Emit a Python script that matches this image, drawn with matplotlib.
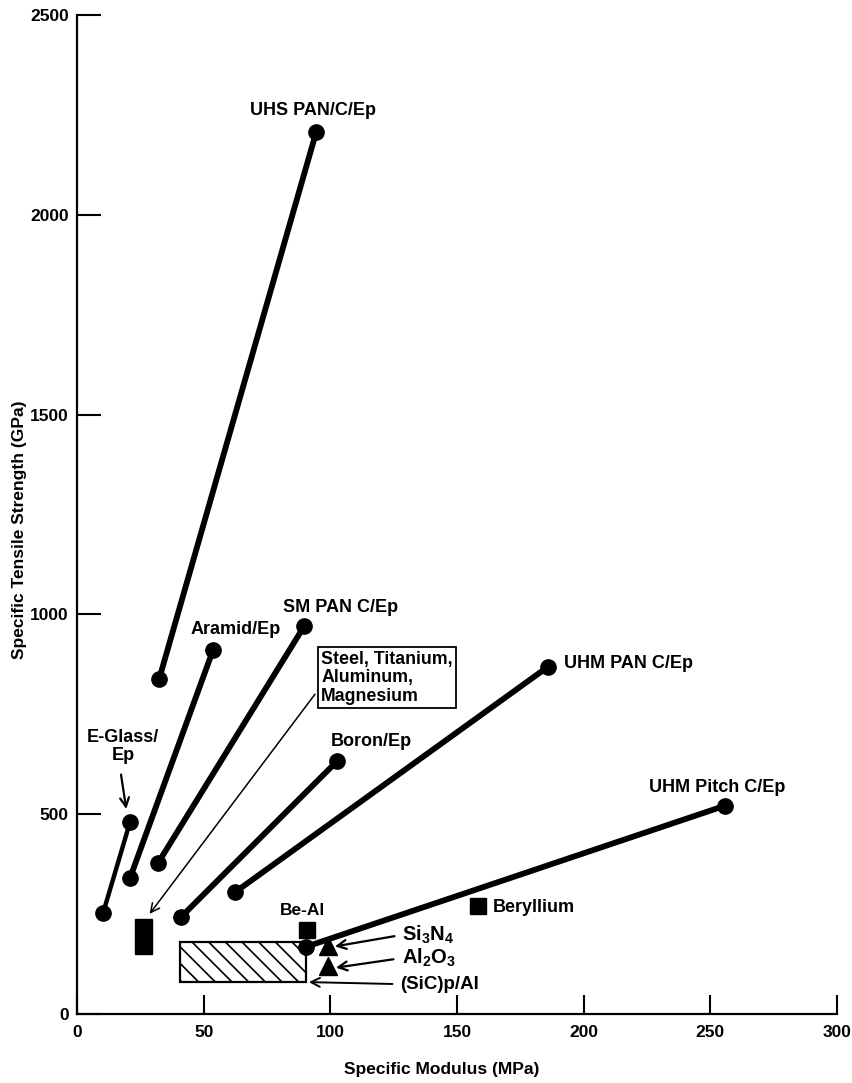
import numpy as np
import matplotlib.pyplot as plt
from matplotlib.patches import Rectangle

plt.rcParams['font.family'] = ['Liberation Sans', 'DejaVu Sans']
plt.rcParams['font.weight'] = 'bold'
plt.rcParams['mathtext.default'] = 'regular'
plt.rcParams['hatch.linewidth'] = 1.2

# fibre composites: (modulus, strength) at each end of the band
materials = ['E-Glass/Ep', 'Aramid/Ep', 'SM PAN C/Ep', 'UHS PAN/C/Ep',
             'Boron/Ep', 'UHM PAN C/Ep', 'UHM Pitch C/Ep']
modulus_low = [10.3, 20.9, 32.0, 32.4, 41.1, 62.4, 90.3]
modulus_high = [20.9, 53.7, 89.7, 94.4, 102.7, 185.9, 255.6]
strength_low = [253, 340, 378, 838, 243, 305, 168]
strength_high = [480, 911, 971, 2207, 633, 869, 521]

# steel / titanium / aluminium / magnesium block
metals_modulus = [23.0, 29.5]
metals_strength = [150, 238]

# (SiC)p/Al range
sic_modulus = [40.7, 90.3]
sic_strength = [79, 179]

# single points
squares = ['Be-Al', 'Beryllium']
squares_modulus = [90.7, 158.2]
squares_strength = [209, 271]
ceramics = ['Si$_3$N$_4$', 'Al$_2$O$_3$']
ceramics_modulus = [99.0, 99.1]
ceramics_strength = [171, 120]

x_ticks = [0, 50, 100, 150, 200, 250, 300]
y_ticks = [0, 500, 1000, 1500, 2000, 2500]

fig = plt.figure(figsize=(8.53, 10.83), dpi=100)
ax = fig.add_axes([0.0903, 0.0637, 0.891, 0.9224])

for i in range(len(materials)):
    lw = 3.2 if i == 0 else 4.2
    ax.plot([modulus_low[i], modulus_high[i]], [strength_low[i], strength_high[i]],
            color='black', lw=lw, marker='o', ms=11, solid_capstyle='round')

ax.add_patch(Rectangle((metals_modulus[0], metals_strength[0]),
                       metals_modulus[1] - metals_modulus[0],
                       metals_strength[1] - metals_strength[0],
                       facecolor='black', edgecolor='black'))
ax.add_patch(Rectangle((sic_modulus[0], sic_strength[0]),
                       sic_modulus[1] - sic_modulus[0],
                       sic_strength[1] - sic_strength[0],
                       facecolor='white', edgecolor='black', lw=1.6, hatch='\\\\', zorder=1))

ax.plot(squares_modulus, squares_strength, 's', color='black', ms=11, zorder=3)
ax.plot(ceramics_modulus, ceramics_strength, '^', color='black', ms=13, zorder=3)

# labels for the composite bands
fs = 13
label_pos = {
    'UHS PAN/C/Ep': (68.3, 2262),
    'Aramid/Ep': (45.0, 963),
    'SM PAN C/Ep': (81.4, 1018),
    'UHM PAN C/Ep': (192.3, 878),
    'Boron/Ep': (100.3, 681),
    'UHM Pitch C/Ep': (225.9, 568),
}
for name, (lx, ly) in label_pos.items():
    ax.text(lx, ly, name, fontsize=fs, fontweight='bold', ha='left', va='center')

ax.text(18.2, 669, 'E-Glass/\nEp', fontsize=fs, fontweight='bold', ha='center',
        va='center', linespacing=1.05)
ax.annotate('', xy=(19.6, 506), xytext=(17.2, 606),
            arrowprops=dict(arrowstyle='->', lw=1.6, color='black', mutation_scale=16))

ax.text(96.4, 842, 'Steel, Titanium,\nAluminum,\nMagnesium', fontsize=12.8,
        fontweight='bold', ha='left', va='center', linespacing=1.12,
        bbox=dict(boxstyle='square,pad=0.2', facecolor='white', edgecolor='black', lw=1.3))
ax.annotate('', xy=(28.0, 245), xytext=(94.6, 806),
            arrowprops=dict(arrowstyle='->', lw=1.1, color='black', mutation_scale=16))

ax.text(88.9, 260, squares[0], fontsize=12.5, fontweight='bold', ha='center', va='center')
ax.text(163.9, 267, squares[1], fontsize=fs, fontweight='bold', ha='left', va='center')

ax.text(128.4, 198, ceramics[0], fontsize=14.5, fontweight='bold', ha='left', va='center')
ax.text(128.4, 140, ceramics[1], fontsize=14.5, fontweight='bold', ha='left', va='center')
ax.text(127.6, 75, '(SiC)p/Al', fontsize=13.5, fontweight='bold', ha='left', va='center')
ax.annotate('', xy=(100.7, 168), xytext=(126.4, 196),
            arrowprops=dict(arrowstyle='->', lw=1.6, color='black', mutation_scale=16))
ax.annotate('', xy=(101.1, 115), xytext=(126.0, 138),
            arrowprops=dict(arrowstyle='->', lw=1.6, color='black', mutation_scale=16))
ax.annotate('', xy=(90.4, 80), xytext=(125.6, 75),
            arrowprops=dict(arrowstyle='->', lw=1.4, color='black', mutation_scale=16))

ax.set_xlim(0, 300)
ax.set_ylim(0, 2500)
ax.set_xticks(x_ticks)
ax.set_yticks(y_ticks)
ax.spines['top'].set_visible(False)
ax.spines['right'].set_visible(False)
ax.spines['left'].set_linewidth(1.6)
ax.spines['bottom'].set_linewidth(1.6)
ax.tick_params(axis='x', direction='in', length=14, width=1.5, pad=8, labelsize=12.5)
ax.tick_params(axis='y', direction='in', length=17, width=1.5, pad=6, labelsize=12.5)
for lab in ax.get_xticklabels() + ax.get_yticklabels():
    lab.set_fontweight('bold')

ax.set_xlabel('Specific Modulus (MPa)', fontsize=12.5, fontweight='bold')
ax.set_ylabel('Specific Tensile Strength (GPa)', fontsize=12.5, fontweight='bold')
ax.xaxis.set_label_coords(0.48, -0.048)
ax.yaxis.set_label_coords(-0.066, 0.485)

fig.savefig('out.png', dpi=100)
